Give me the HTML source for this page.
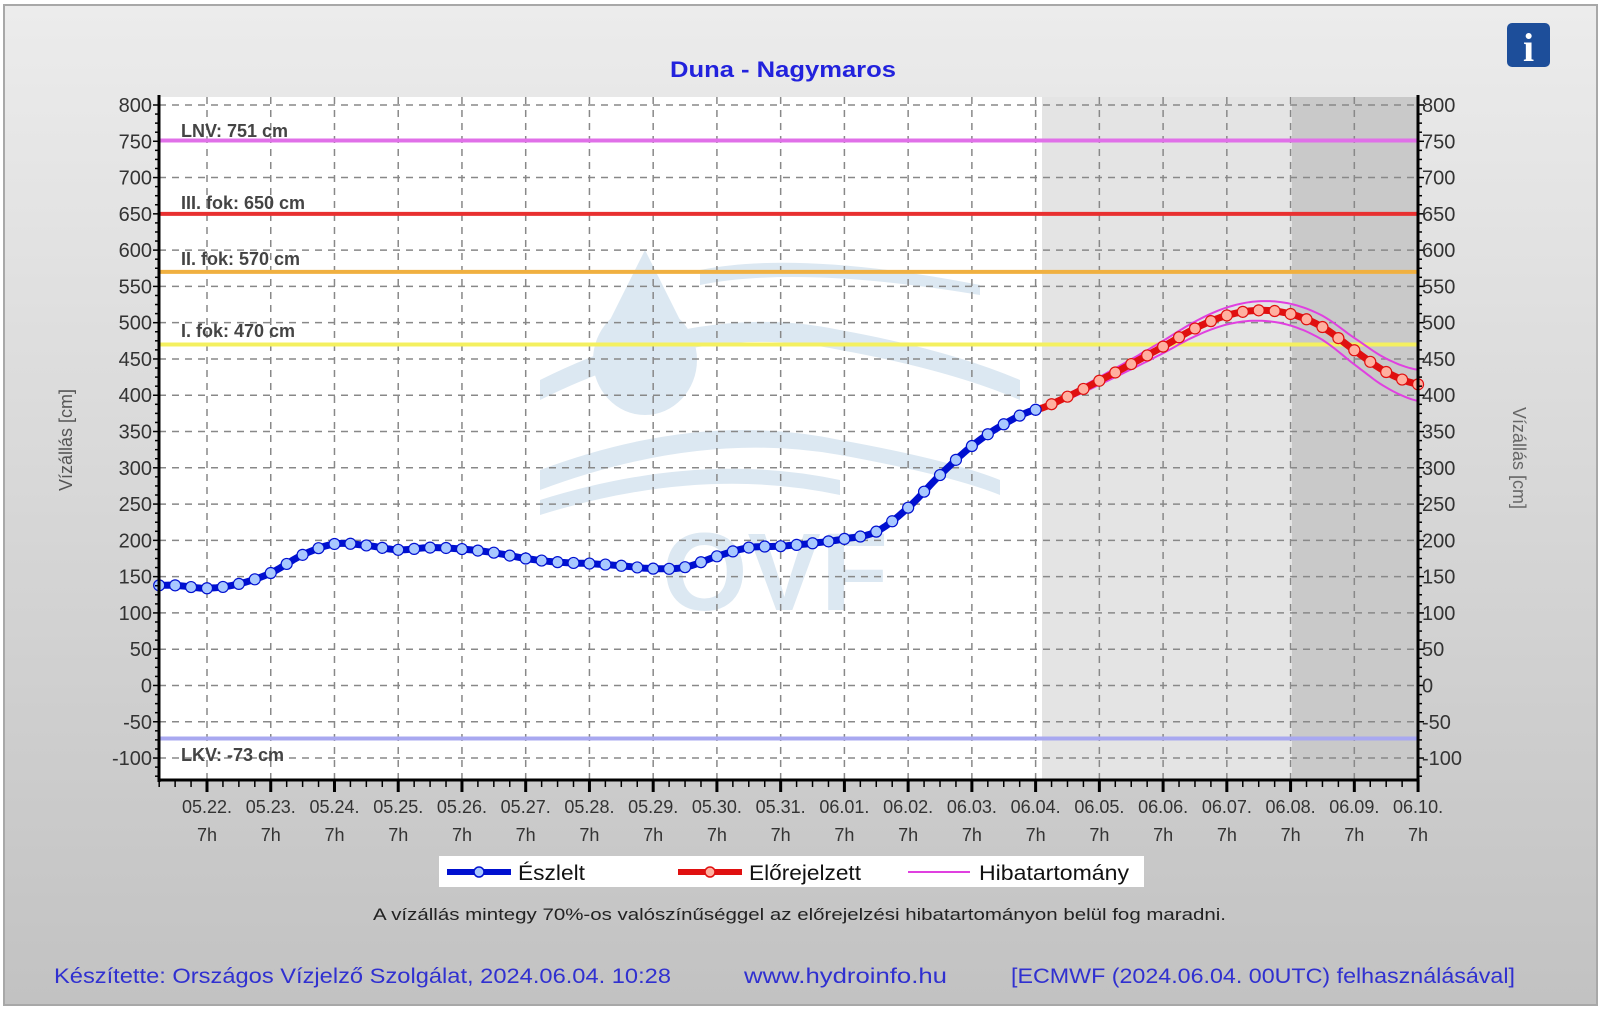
<!DOCTYPE html>
<html><head><meta charset="utf-8"><style>
html,body{margin:0;padding:0;}
body{width:1602px;height:1010px;overflow:hidden;background:#fff;font-family:"Liberation Sans",sans-serif;}
</style></head><body>
<svg id="s" width="1602" height="1010" xmlns="http://www.w3.org/2000/svg" font-family="Liberation Sans, sans-serif">
<defs>
<linearGradient id="bg" x1="0" y1="0" x2="0" y2="1">
<stop offset="0" stop-color="#ececec"/><stop offset="1" stop-color="#c2c2c2"/>
</linearGradient>
</defs>
<rect x="0" y="0" width="1602" height="1010" fill="#fff"/>
<rect x="4" y="5" width="1593" height="1000" fill="url(#bg)" stroke="#a8a8a8" stroke-width="2"/>
<rect x="159" y="97" width="1259" height="683" fill="#fff"/>
<rect x="1042" y="97" width="250" height="683" fill="#e4e4e4"/>
<rect x="1292" y="97" width="126" height="683" fill="#c9c9c9"/>
<g id="wm" fill="#dce8f2">
<ellipse cx="645" cy="360" rx="52" ry="55"/>
<path d="M645 250 L600 340 L690 340 Z"/>
<path d="M540 380 Q700 300 840 330 Q950 350 1020 380 L1020 400 Q950 370 840 350 Q700 320 540 400Z"/>
<path d="M700 270 Q800 250 980 285 L980 295 Q800 265 700 285Z"/>
<path d="M540 470 Q700 410 840 440 Q950 460 1000 480 L1000 495 Q950 475 840 455 Q700 430 540 490Z"/>
<path d="M540 500 Q700 450 840 480 L840 495 Q700 465 540 515Z"/>
<text x="662" y="610" font-size="110" font-weight="bold" fill="#dce8f2">OVF</text>
</g>
<g id="grid"></g>
<g id="lines"></g>
<g id="data"></g>
<g id="axes"></g>
<text x="670" y="77" font-size="22" font-weight="bold" fill="#2222dd" textLength="226" lengthAdjust="spacingAndGlyphs">Duna - Nagymaros</text>
<g transform="translate(1507,23)"><rect width="43" height="44" rx="5" fill="#1d4e9a"/><text x="21.5" y="38" font-size="40" font-weight="bold" font-family="Liberation Serif, serif" fill="#fff" text-anchor="middle">i</text></g>
<text transform="translate(72,440) rotate(-90)" font-size="18" fill="#555" text-anchor="middle">Vízállás [cm]</text>
<text transform="translate(1513,458) rotate(90)" font-size="18" fill="#666" text-anchor="middle">Vízállás [cm]</text>
<rect x="439" y="856" width="705" height="31" fill="#fff"/>
<line x1="447" y1="872" x2="511" y2="872" stroke="#0010d0" stroke-width="6"/>
<circle cx="479" cy="872" r="5" fill="#a8c8ff" stroke="#0010d0" stroke-width="1.5"/>
<text x="518" y="880" font-size="21" fill="#111" textLength="67" lengthAdjust="spacingAndGlyphs">Észlelt</text>
<line x1="678" y1="872" x2="742" y2="872" stroke="#e01010" stroke-width="6"/>
<circle cx="710" cy="872" r="5" fill="#ffb0a0" stroke="#e01010" stroke-width="1.5"/>
<text x="749" y="880" font-size="21" fill="#111" textLength="112" lengthAdjust="spacingAndGlyphs">Előrejelzett</text>
<line x1="908" y1="872" x2="970" y2="872" stroke="#e040e0" stroke-width="2"/>
<text x="979" y="880" font-size="21" fill="#111" textLength="150" lengthAdjust="spacingAndGlyphs">Hibatartomány</text>
<text x="373" y="920" font-size="17" fill="#222" textLength="853" lengthAdjust="spacingAndGlyphs">A vízállás mintegy 70%-os valószínűséggel az előrejelzési hibatartományon belül fog maradni.</text>
<text x="54" y="983" font-size="21" fill="#3030d0" textLength="617" lengthAdjust="spacingAndGlyphs">Készítette: Országos Vízjelző Szolgálat, 2024.06.04. 10:28</text>
<text x="744" y="983" font-size="21" fill="#3030d0" textLength="203" lengthAdjust="spacingAndGlyphs">www.hydroinfo.hu</text>
<text x="1011" y="983" font-size="21" fill="#3030d0" textLength="504" lengthAdjust="spacingAndGlyphs">[ECMWF (2024.06.04. 00UTC) felhasználásával]</text>
</svg>
<script>
var NS="http://www.w3.org/2000/svg";
function el(p,t,a,txt){var e=document.createElementNS(NS,t);for(var k in a)e.setAttribute(k,a[k]);if(txt!=null)e.textContent=txt;document.getElementById(p).appendChild(e);return e;}
var L=159,R=1418,T=97,B=780;
function Y(v){return 105+(800-v)*0.7256;}
function X(d){return 207+d*63.74;}
for(var v=-100;v<=800;v+=50){el("grid","line",{x1:L,x2:R,y1:Y(v),y2:Y(v),stroke:"#888","stroke-width":1.5,"stroke-dasharray":"7,6"});}
for(var d=0;d<19;d++){el("grid","line",{x1:X(d),x2:X(d),y1:T,y2:B,stroke:"#888","stroke-width":1.5,"stroke-dasharray":"7,6"});}
var lv=[[751,"#e070e8","LNV: 751 cm",130],[650,"#e83030","III. fok: 650 cm",202],[570,"#f0b040","II. fok: 570 cm",258],[470,"#f4f060","I. fok: 470 cm",330],[-73,"#a8a8f0","LKV: -73 cm",754]];
lv.forEach(function(a){el("lines","line",{x1:L,x2:R,y1:Y(a[0]),y2:Y(a[0]),stroke:a[1],"stroke-width":4});el("lines","text",{x:181,y:a[3]+7,"font-size":18,"font-weight":"bold",fill:"#444"},a[2]);});
var obs=[[-0.75,138],[-0.5,138],[0,134],[0.5,140],[1,155],[1.5,180],[2,195],[2.5,193],[3,187],[3.5,190],[4,188],[4.5,183],[5,175],[5.5,170],[6,168],[6.5,165],[7,161],[7.5,163],[8,178],[8.5,190],[9,192],[9.5,196],[10,202],[10.5,212],[11,245],[11.5,290],[12,330],[12.5,360],[13,380]];
var fc=[[13,380],[13.5,398],[14,420],[14.5,443],[15,467],[15.5,492],[16,510],[16.5,517],[17,512],[17.5,494],[18,462],[18.5,432],[19,415]];
function interp(arr,t){for(var i=0;i<arr.length-1;i++){if(t>=arr[i][0]-1e-9&&t<=arr[i+1][0]+1e-9){var a=arr[i],b=arr[i+1];var u=(t-a[0])/(b[0]-a[0]);var p0=arr[Math.max(0,i-1)][1],p3=arr[Math.min(arr.length-1,i+2)][1];var p1=a[1],p2=b[1];return 0.5*((2*p1)+(-p0+p2)*u+(2*p0-5*p1+4*p2-p3)*u*u+(-p0+3*p1-3*p2+p3)*u*u*u);}}return arr[arr.length-1][1];}
function series(arr,t0,t1,off){var pts=[];for(var t=t0;t<=t1+1e-6;t+=0.05)pts.push(X(t).toFixed(1)+","+Y(interp(arr,t)+(off?off(t):0)).toFixed(1));return pts.join(" ");}
el("data","polyline",{points:series(fc,13,19,function(t){return 2+(t-13)*3;}),fill:"none",stroke:"#e040e0","stroke-width":2});
el("data","polyline",{points:series(fc,13,19,function(t){return -2-(t-13)*3.5;}),fill:"none",stroke:"#e040e0","stroke-width":2});
el("data","polyline",{points:series(obs,-0.75,13),fill:"none",stroke:"#0010d0","stroke-width":7});
el("data","polyline",{points:series(fc,13,19),fill:"none",stroke:"#e01010","stroke-width":7});
for(var t=-0.75;t<=13.01;t+=0.25){el("data","circle",{cx:X(t),cy:Y(interp(obs,t)),r:5.5,fill:"#a8c8ff",stroke:"#0010d0","stroke-width":1.2});}
for(var t=13.25;t<=19.01;t+=0.25){el("data","circle",{cx:X(t),cy:Y(interp(fc,t)),r:5.5,fill:"#ffb0a0",stroke:"#e01010","stroke-width":1.2});}
el("axes","line",{x1:L,x2:L,y1:T-2,y2:B+2,stroke:"#000","stroke-width":3});
el("axes","line",{x1:R,x2:R,y1:T-2,y2:B+2,stroke:"#000","stroke-width":3});
el("axes","line",{x1:L,x2:R,y1:B,y2:B,stroke:"#000","stroke-width":3});
for(var v=-125;v<=800;v+=12.5){var y=Y(v);if(y>B||y<T-1)continue;var maj=(v%50==0);el("axes","line",{x1:L-(maj?6:4),x2:L,y1:y,y2:y,stroke:"#000","stroke-width":1.5});el("axes","line",{x1:R,x2:R+(maj?6:4),y1:y,y2:y,stroke:"#000","stroke-width":1.5});
if(maj){el("axes","text",{x:L-7,y:y+7,"font-size":20,fill:"#333","text-anchor":"end"},String(v));el("axes","text",{x:R+4,y:y+7,"font-size":20,fill:"#333"},String(v));}}
var lab=["05.22.","05.23.","05.24.","05.25.","05.26.","05.27.","05.28.","05.29.","05.30.","05.31.","06.01.","06.02.","06.03.","06.04.","06.05.","06.06.","06.07.","06.08.","06.09.","06.10."];
for(var t=-0.75;t<=19.01;t+=0.25){var x=X(t);var maj=Math.abs(t-Math.round(t))<1e-6;el("axes","line",{x1:x,x2:x,y1:B,y2:B+(maj?12:7),stroke:"#000","stroke-width":maj?3:1.5});}
for(var d=0;d<=19;d++){el("axes","text",{x:X(d),y:813,"font-size":18,fill:"#333","text-anchor":"middle"},lab[d]);el("axes","text",{x:X(d),y:841,"font-size":18,fill:"#333","text-anchor":"middle"},"7h");}
</script>
</body></html>
